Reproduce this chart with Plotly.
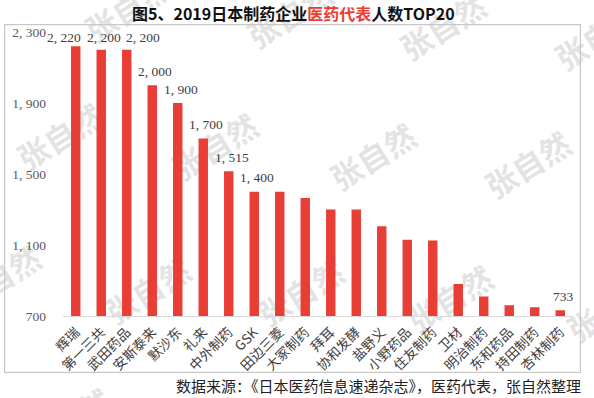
import plotly.graph_objects as go

# ---- data ----
companies = ["辉瑞", "第一三共", "武田药品", "安斯泰来", "默沙东", "礼来", "中外制药", "GSK",
             "田边三菱", "大冢制药", "拜耳", "协和发酵", "盐野义", "小野药品", "住友制药", "卫材",
             "明治制药", "东和药品", "持田制药", "杏林制药"]
reps = [2220, 2200, 2200, 2000, 1900, 1700, 1515, 1400, 1400, 1365, 1300, 1300, 1205, 1130,
        1125, 880, 810, 760, 750, 733]
labeled = [True, True, True, True, True, True, True, True, False, False, False, False, False,
           False, False, False, False, False, False, True]
y_ticks = [700, 1100, 1500, 1900, 2300]

title_html = "图5、2019日本制药企业<span style='color:#EE3B33'>医药代表</span>人数TOP20"
source_text = "数据来源：《日本医药信息速递杂志》，医药代表，张自然整理"

# ---- style ----
W, H = 594, 398
L, R, T, B = 63, 573, 32, 316   # plot area in pixels
BAR_RED = "#E93E36"
label_shift = {0: (-12, 9), 1: (3, 12), 2: (16, 12)}
default_shift = (3, 14)


def fmt(v):
    s = f"{v:,}"
    return s.replace(",", ", ")


def px_x(px):
    return (px - L) / (R - L)


def px_y(py):
    return (B - py) / (B - T)


fig = go.Figure()
fig.add_trace(go.Bar(x=companies, y=reps, marker=dict(color=BAR_RED, line=dict(width=0)),
                     hoverinfo="x+y"))

annotations = []
# outer frame drawn as a bordered, empty annotation box
annotations.append(dict(x=px_x(4), y=px_y(24), xref="paper", yref="paper", text=" ",
                        showarrow=False, xanchor="left", yanchor="top",
                        width=575, height=347, borderpad=0,
                        bordercolor="#C8C8C8", borderwidth=1.2,
                        bgcolor="rgba(0,0,0,0)"))
for i, (c, v, show) in enumerate(zip(companies, reps, labeled)):
    if not show:
        continue
    dx, dy = label_shift.get(i, default_shift)
    annotations.append(dict(x=c, y=v, xref="x", yref="y", text=fmt(v), showarrow=False,
                            xanchor="center", yanchor="middle", xshift=dx, yshift=dy,
                            font=dict(family="Liberation Serif", size=13.5, color="#404040")))

annotations.append(dict(x=px_x(293), y=px_y(13), xref="paper", yref="paper", text=title_html,
                        showarrow=False, xanchor="center", yanchor="middle",
                        font=dict(family="Noto Sans CJK SC", size=16, color="#111111",
                                  weight=700)))
annotations.append(dict(x=px_x(583), y=px_y(385), xref="paper", yref="paper", text=source_text,
                        showarrow=False, xanchor="right", yanchor="middle",
                        font=dict(family="Noto Sans CJK SC", size=15, color="#222222")))

shapes = []
# watermarks (behind the bars)
wm_centers = [(130, 12), (292, 18), (445, 30), (600, 40),
              (62, 140), (217, 150), (375, 160), (530, 168),
              (0, 282), (150, 294), (303, 296), (452, 302), (612, 312),
              (70, 425)]
for cx, cy in wm_centers:
    shapes.append(dict(type="rect", xref="paper", yref="paper",
                       x0=px_x(cx - 50), x1=px_x(cx + 50), y0=px_y(cy + 30), y1=px_y(cy - 30),
                       line=dict(width=0), fillcolor="rgba(0,0,0,0)", layer="below",
                       label=dict(text="张自然", textangle=-32, textposition="middle center",
                                  font=dict(family="Noto Sans CJK SC", size=31,
                                            color="rgba(200,200,200,0.5)", weight=700))))

fig.update_layout(
    width=W, height=H,
    margin=dict(l=L, r=W - R, t=T, b=H - B, pad=0, autoexpand=False),
    paper_bgcolor="white", plot_bgcolor="rgba(0,0,0,0)",
    showlegend=False, bargap=0.63,
    annotations=annotations, shapes=shapes,
    xaxis=dict(range=[-0.5, len(companies) - 0.5], showgrid=False, showline=True,
               linecolor="#D9D9D9", linewidth=1.2,
               tickangle=-45, ticks="", zeroline=False, automargin=False,
               ticklabelstandoff=2,
               tickfont=dict(family="Noto Sans CJK SC", size=13.5, color="#404040")),
    yaxis=dict(range=[700, 2300], showgrid=False, showline=False, zeroline=False, ticks="",
               automargin=False,
               tickvals=y_ticks, ticktext=[fmt(v) for v in y_ticks], ticklabelstandoff=16,
               tickfont=dict(family="Liberation Serif", size=13.5, color="#595959")),
)

fig.write_html("out.html", config={"displayModeBar": False},
               post_script="document.body.style.margin='0';")
